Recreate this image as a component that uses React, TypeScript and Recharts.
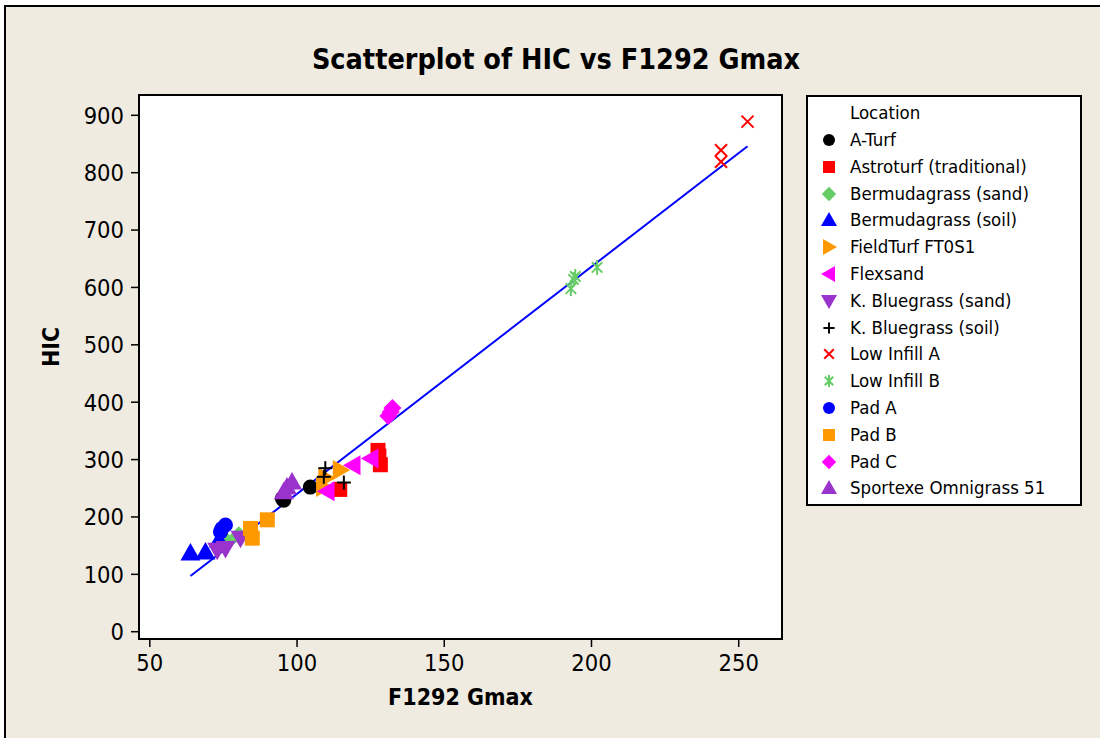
import React from "react";
import {
  ScatterChart,
  Scatter,
  XAxis,
  YAxis,
  ReferenceArea,
} from "recharts";

// F1292 Gmax (x) vs HIC (y)
const aTurf = [
  { x: 95, y: 232 },
  { x: 95.5, y: 229 },
  { x: 104.5, y: 252 },
];
const astroturf = [
  { x: 127.5, y: 316 },
  { x: 127.8, y: 306 },
  { x: 128.3, y: 291 },
  { x: 114.5, y: 248 },
];
const bermudaSand = [
  { x: 76.3, y: 157 },
  { x: 80.2, y: 168 },
];
const bermudaSoil = [
  { x: 63.8, y: 137 },
  { x: 68.9, y: 139 },
  { x: 73.5, y: 160 },
];
const fieldTurf = [
  { x: 114.7, y: 282 },
  { x: 109.8, y: 268 },
  { x: 109, y: 252 },
];
const flexsand = [
  { x: 119, y: 290 },
  { x: 125.1, y: 302 },
  { x: 110.2, y: 245 },
];
const kbgSand = [
  { x: 72.9, y: 142 },
  { x: 75.7, y: 145 },
  { x: 80.8, y: 163 },
];
const kbgSoil = [
  { x: 109.6, y: 285 },
  { x: 109.1, y: 270 },
  { x: 115.9, y: 260 },
];
const lowInfillA = [
  { x: 244, y: 839 },
  { x: 244, y: 819 },
  { x: 253, y: 889 },
];
const lowInfillB = [
  { x: 193, y: 598 },
  { x: 193.9, y: 614 },
  { x: 194.5, y: 619 },
  { x: 201.9, y: 635 },
];
const padA = [
  { x: 75.7, y: 186 },
  { x: 74, y: 174 },
  { x: 74.5, y: 180 },
];
const padB = [
  { x: 84.2, y: 180 },
  { x: 84.8, y: 163 },
  { x: 89.9, y: 195 },
];
const padC = [
  { x: 132.4, y: 390 },
  { x: 131, y: 376 },
  { x: 131.8, y: 383 },
];
const sportexe = [
  { x: 98.3, y: 261 },
  { x: 96.6, y: 252 },
  { x: 95.5, y: 244 },
];

// fitted regression line endpoints
const fitLine = [
  { x: 63.8, y: 97 },
  { x: 253, y: 846 },
];

const xTicks = [50, 100, 150, 200, 250];
const yTicks = [0, 100, 200, 300, 400, 500, 600, 700, 800, 900];

type Kind =
  | "circle"
  | "square"
  | "diamond"
  | "up"
  | "down"
  | "left"
  | "right"
  | "plus"
  | "cross"
  | "star";

const series: { name: string; data: { x: number; y: number }[]; kind: Kind; color: string }[] = [
  { name: "A-Turf", data: aTurf, kind: "circle", color: "#000000" },
  { name: "Astroturf (traditional)", data: astroturf, kind: "square", color: "#ff0000" },
  { name: "Bermudagrass (sand)", data: bermudaSand, kind: "diamond", color: "#66cc66" },
  { name: "Bermudagrass (soil)", data: bermudaSoil, kind: "up", color: "#0000ff" },
  { name: "FieldTurf FT0S1", data: fieldTurf, kind: "right", color: "#ff9900" },
  { name: "Flexsand", data: flexsand, kind: "left", color: "#ff00ff" },
  { name: "K. Bluegrass (sand)", data: kbgSand, kind: "down", color: "#9933cc" },
  { name: "K. Bluegrass (soil)", data: kbgSoil, kind: "plus", color: "#000000" },
  { name: "Low Infill A", data: lowInfillA, kind: "cross", color: "#ff0000" },
  { name: "Low Infill B", data: lowInfillB, kind: "star", color: "#66cc66" },
  { name: "Pad A", data: padA, kind: "circle", color: "#0000ff" },
  { name: "Pad B", data: padB, kind: "square", color: "#ff9900" },
  { name: "Pad C", data: padC, kind: "diamond", color: "#ff00ff" },
  { name: "Sportexe Omnigrass 51", data: sportexe, kind: "up", color: "#9933cc" },
];

function Marker({ kind, color, cx, cy, s = 1 }: { kind: Kind; color: string; cx: number; cy: number; s?: number }) {
  const r = 7.5 * s;
  switch (kind) {
    case "circle":
      return <circle cx={cx} cy={cy} r={r} fill={color} />;
    case "square":
      return <rect x={cx - r} y={cy - r} width={2 * r} height={2 * r} fill={color} />;
    case "diamond": {
      const d = 9 * s;
      return <polygon points={`${cx},${cy - d} ${cx + d},${cy} ${cx},${cy + d} ${cx - d},${cy}`} fill={color} />;
    }
    case "up": {
      const d = 10 * s;
      return <polygon points={`${cx},${cy - d} ${cx + d},${cy + d * 0.75} ${cx - d},${cy + d * 0.75}`} fill={color} />;
    }
    case "down": {
      const d = 10 * s;
      return <polygon points={`${cx},${cy + d} ${cx + d},${cy - d * 0.75} ${cx - d},${cy - d * 0.75}`} fill={color} />;
    }
    case "right": {
      const d = 10 * s;
      return <polygon points={`${cx + d},${cy} ${cx - d * 0.75},${cy - d} ${cx - d * 0.75},${cy + d}`} fill={color} />;
    }
    case "left": {
      const d = 10 * s;
      return <polygon points={`${cx - d},${cy} ${cx + d * 0.75},${cy - d} ${cx + d * 0.75},${cy + d}`} fill={color} />;
    }
    case "plus": {
      const d = 7 * s;
      return (
        <g stroke={color} strokeWidth={2} fill="none">
          <line x1={cx - d} y1={cy} x2={cx + d} y2={cy} />
          <line x1={cx} y1={cy - d} x2={cx} y2={cy + d} />
        </g>
      );
    }
    case "cross": {
      const d = 6 * s;
      return (
        <g stroke={color} strokeWidth={2} fill="none">
          <line x1={cx - d} y1={cy - d} x2={cx + d} y2={cy + d} />
          <line x1={cx - d} y1={cy + d} x2={cx + d} y2={cy - d} />
        </g>
      );
    }
    case "star": {
      const d = 7.5 * s;
      const e = d * 0.7;
      return (
        <g stroke={color} strokeWidth={2} fill="none">
          <line x1={cx} y1={cy - d} x2={cx} y2={cy + d} />
          <line x1={cx - e} y1={cy - e} x2={cx + e} y2={cy + e} />
          <line x1={cx - e} y1={cy + e} x2={cx + e} y2={cy - e} />
        </g>
      );
    }
  }
  return null;
}

const font = "Tahoma, 'DejaVu Sans Condensed', 'Liberation Sans', sans-serif";

export default function App() {
  return (
    <div style={{ position: "absolute", left: 0, top: 0, width: 1100, height: 738, background: "#fff", overflow: "hidden" }}>
      <div
        style={{
          position: "absolute",
          left: 4,
          top: 5,
          width: 1100,
          height: 740,
          background: "#efebe1",
          border: "2px solid #000",
        }}
      />
      <div style={{ position: "absolute", left: 0, top: 0 }}>
        <ScatterChart
          width={1100}
          height={738}
          margin={{ top: 95, right: 318, bottom: 39, left: 79 }}
          style={{ fontFamily: font }}
        >
          <XAxis
            type="number"
            dataKey="x"
            domain={[46.33, 264.7]}
            ticks={xTicks}
            allowDataOverflow
            height={60}
            tickSize={8}
            tickMargin={7}
            axisLine={false}
            tickLine={{ stroke: "#000", strokeWidth: 1.5 }}
            tick={{ fill: "#000", fontSize: 23.5 }}
            label={{ value: "F1292 Gmax", position: "insideBottom", offset: -6, fill: "#000", fontSize: 23, fontWeight: "bold" }}
          />
          <YAxis
            type="number"
            dataKey="y"
            domain={[-12.7, 935.4]}
            ticks={yTicks}
            allowDataOverflow
            width={60}
            tickSize={8}
            tickMargin={7}
            axisLine={false}
            tickLine={{ stroke: "#000", strokeWidth: 1.5 }}
            tick={{ fill: "#000", fontSize: 23.5 }}
            label={{ value: "HIC", angle: -90, position: "insideLeft", offset: -28, fill: "#000", fontSize: 23, fontWeight: "bold" }}
          />
          <ReferenceArea
            x1={46.33}
            x2={264.7}
            y1={-12.7}
            y2={935.4}
            fill="#ffffff"
            fillOpacity={1}
            stroke="#000"
            strokeWidth={2}
            ifOverflow="visible"
          />
          <Scatter
            data={fitLine}
            line={{ stroke: "#0000ff", strokeWidth: 2 }}
            shape={() => <g />}
            isAnimationActive={false}
          />
          {series.map((s) => (
            <Scatter
              key={s.name}
              name={s.name}
              data={s.data}
              isAnimationActive={false}
              shape={(p: any) => <Marker kind={s.kind} color={s.color} cx={p.cx} cy={p.cy} />}
            />
          ))}
          <text x={556} y={69} textAnchor="middle" fontSize={28.5} fontWeight="bold" fill="#000" fontFamily={font}>
            Scatterplot of HIC vs F1292 Gmax
          </text>
        </ScatterChart>
      </div>
      {/* Legend */}
      <div
        style={{
          position: "absolute",
          left: 806,
          top: 95,
          width: 276,
          height: 411,
          background: "#fff",
          border: "2px solid #000",
          boxSizing: "border-box",
          fontFamily: font,
          fontSize: 18.5,
          color: "#000",
        }}
      >
        <div style={{ position: "absolute", left: 42, top: 6, lineHeight: "20px" }}>Location</div>
        {series.map((s, i) => (
          <div
            key={s.name}
            style={{ position: "absolute", left: 0, top: 33 + i * 26.8, height: 20, width: 270, lineHeight: "20px" }}
          >
            <svg width={30} height={20} style={{ position: "absolute", left: 8, top: 0 }}>
              <Marker kind={s.kind} color={s.color} cx={13} cy={10} s={0.8} />
            </svg>
            <span style={{ position: "absolute", left: 42, top: 0, whiteSpace: "nowrap" }}>{s.name}</span>
          </div>
        ))}
      </div>
    </div>
  );
}
